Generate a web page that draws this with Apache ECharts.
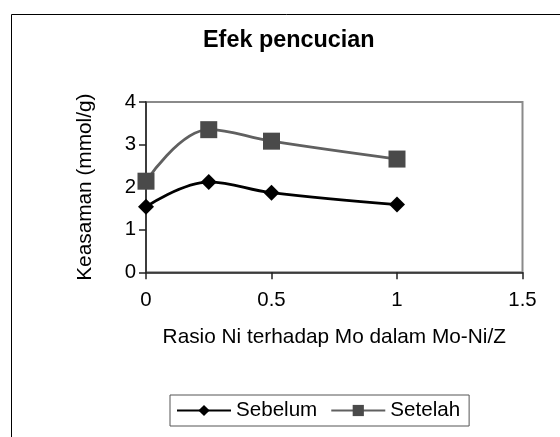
<!DOCTYPE html>
<html>
<head>
<meta charset="utf-8">
<script src="https://cdn.jsdelivr.net/npm/echarts@6/dist/echarts.min.js"></script>
<style>html,body{margin:0;padding:0;background:#fff}#c{width:560px;height:437px}</style>
</head>
<body>
<div id="c"></div>
<script>
const titleText = 'Efek pencucian';
const xName = 'Rasio Ni terhadap Mo dalam Mo-Ni/Z';
const yName = 'Keasaman (mmol/g)';
const seriesNames = ['Sebelum', 'Setelah'];
const xValues = [0, 0.25, 0.5, 1];
const sebelum = [1.54, 2.12, 1.87, 1.59];
const setelah = [2.14, 3.35, 3.08, 2.66];

const font = 'Liberation Sans, Arial, sans-serif';
const chart = echarts.init(document.getElementById('c'), null, {renderer: 'canvas'});
const pairs = (ys) => xValues.map((x, i) => [x, ys[i]]);

chart.setOption({
  animation: false,
  backgroundColor: '#fff',
  graphic: [{
    type: 'rect', left: 9, top: 12,
    shape: {x: 0, y: 0, width: 620, height: 500},
    style: {fill: 'none', stroke: '#000', lineWidth: 1},
    silent: true, z: -1
  }],
  title: {
    text: titleText, left: 203, top: 29, padding: 0,
    textStyle: {fontFamily: font, fontSize: 23.4, fontWeight: 'bold', color: '#000'}
  },
  legend: {
    left: 170, top: 395,
    padding: [5, 9, 5, 6],
    itemWidth: 54, itemHeight: 14, itemGap: 13,
    borderColor: '#555', borderWidth: 1,
    textStyle: {fontFamily: font, fontSize: 20.6, color: '#000', padding: [0, 0, 0, 0]},
    data: seriesNames
  },
  grid: {
    left: 146, top: 102, width: 376.5, height: 170.3,
    show: true, borderColor: '#8a8a8a', borderWidth: 2, backgroundColor: '#fff'
  },
  xAxis: {
    type: 'value', min: 0, max: 1.5, interval: 0.5,
    name: xName, nameLocation: 'middle', nameGap: 54,
    nameTextStyle: {fontFamily: font, fontSize: 20.8, color: '#000'},
    axisLine: {show: true, onZero: false, lineStyle: {color: '#222', width: 1.5}},
    axisTick: {show: true, length: 7, lineStyle: {color: '#222', width: 1.5}},
    axisLabel: {fontFamily: font, fontSize: 20.4, color: '#000', margin: 18},
    splitLine: {show: false}
  },
  yAxis: {
    type: 'value', min: 0, max: 4, interval: 1,
    name: yName, nameLocation: 'middle', nameGap: 50, nameRotate: 90,
    nameTextStyle: {fontFamily: font, fontSize: 20.8, color: '#000'},
    axisLine: {show: true, lineStyle: {color: '#222', width: 1.5}},
    axisTick: {show: true, length: 7, lineStyle: {color: '#222', width: 1.5}},
    axisLabel: {fontFamily: font, fontSize: 20.4, color: '#000', margin: 10},
    splitLine: {show: false}
  },
  series: [
    {
      name: seriesNames[0], type: 'line', data: pairs(sebelum), smooth: 0.4,
      symbol: 'diamond', symbolSize: 16,
      lineStyle: {color: '#000', width: 2.8},
      itemStyle: {color: '#000'}, z: 3
    },
    {
      name: seriesNames[1], type: 'line', data: pairs(setelah), smooth: 0.4,
      symbol: 'rect', symbolSize: 17,
      lineStyle: {color: '#606060', width: 2.8},
      itemStyle: {color: '#4a4a4a'}, z: 2
    }
  ]
});
</script>
</body>
</html>
